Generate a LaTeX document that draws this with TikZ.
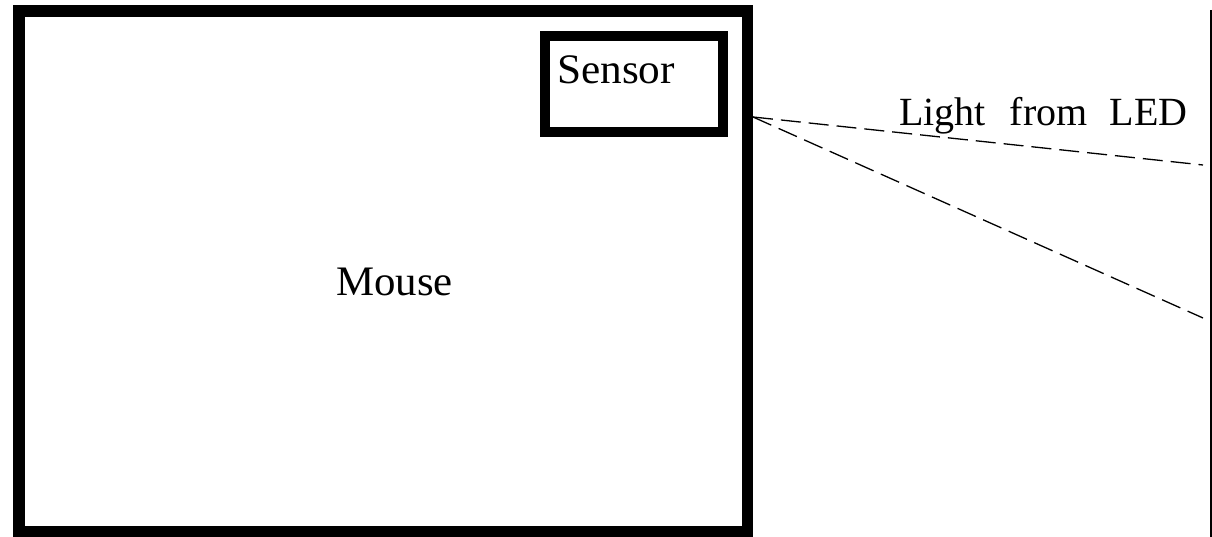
\documentclass[tikz,border=0pt]{standalone}
\usepackage{fontspec}
\usepackage{graphicx}
\setmainfont{Liberation Serif}
\begin{document}
\begin{tikzpicture}[x=1pt,y=-1pt,
  mousebox/.style={draw=black,line width=11.5pt,line join=miter,inner sep=0pt,outer sep=0pt},
  sensorbox/.style={draw=black,line width=10pt,line join=miter,inner sep=0pt,outer sep=0pt},
  ray/.style={draw=black,line width=1.3pt,dash pattern=on 20pt off 8pt},
  lbl/.style={inner sep=0pt,font=\fontsize{40}{40}\selectfont},
  biglbl/.style={inner sep=0pt,font=\fontsize{42}{42}\selectfont}]
\useasboundingbox (0,0) rectangle (1212,537);
\fill[white] (0,0) rectangle (1212,537);
\node[mousebox,minimum width=728.5pt,minimum height=521pt,anchor=north west] (mouse) at (19,11) {};
\node[sensorbox,minimum width=178.5pt,minimum height=95.5pt,anchor=north west] (sensor) at (544.5,36.5) {};
\node[biglbl,anchor=base west] (sensortext) at (557,83.5) {\scalebox{1.03}[1]{Sensor}};
\node[biglbl,anchor=base west] (mousetext) at (336,295) {\scalebox{1.02}[1]{Mouse}};
\node[lbl,anchor=base west] (ledtext) at (899,125.5) {Light\hspace{24pt}from\hspace{22pt}LED};
\coordinate (src) at (753,117);
\coordinate (wtop) at (1210.5,10);
\coordinate (wbot) at (1210.5,537);
\draw[line width=2pt] (wtop) -- (wbot);
\coordinate (hit1) at (1203,165);
\coordinate (hit2) at (1203,318);
\draw[ray] (src) -- (hit1);
\draw[ray] (src) -- (hit2);
\end{tikzpicture}
\end{document}
